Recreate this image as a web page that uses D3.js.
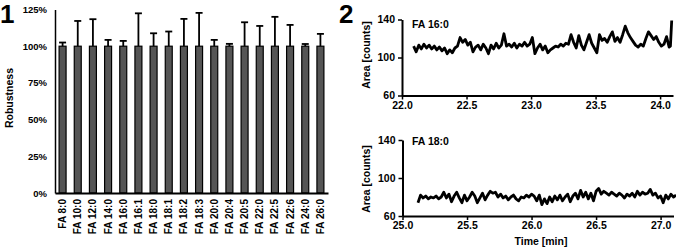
<!DOCTYPE html>
<html>
<head>
<meta charset="utf-8">
<script src="https://cdn.jsdelivr.net/npm/d3@7/dist/d3.min.js"></script>
<style>
  html, body { margin: 0; padding: 0; background: #fff; }
  svg { display: block; }
  svg text { font-family: "Liberation Sans", Arial, sans-serif !important; font-weight: 700 !important; fill: #000 !important; }
</style>
</head>
<body>
<svg id="chart" width="676" height="252"></svg>
<script>
// ---------- Panel 1 data ----------
const categories = ["FA 8:0","FA 10:0","FA 12:0","FA 14:0","FA 16:0","FA 16:1","FA 18:0","FA 18:1","FA 18:2","FA 18:3","FA 20:0","FA 20:4","FA 20:5","FA 22:0","FA 22:5","FA 22:6","FA 24:0","FA 26:0"];
const robustness = [1.00,1.00,1.00,1.00,1.00,1.00,1.00,1.00,1.00,1.00,1.00,1.00,1.00,1.00,1.00,1.00,1.00,1.00];
const errorUpper = [0.025,0.172,0.184,0.043,0.036,0.224,0.088,0.100,0.186,0.227,0.043,0.016,0.163,0.138,0.200,0.145,0.015,0.084];
const yTicks1 = [0,0.25,0.5,0.75,1.0,1.25];

// ---------- Panel 2 data ----------
const times160 = [22.09,22.11,22.13,22.15,22.17,22.19,22.21,22.23,22.25,22.27,22.29,22.31,22.33,22.35,22.37,22.39,22.41,22.43,22.45,22.47,
  22.49,22.51,22.53,22.55,22.57,22.59,22.61,22.63,22.65,22.67,22.69,22.71,22.73,22.75,22.77,22.79,22.81,22.83,22.85,22.87,
  22.89,22.91,22.93,22.95,22.97,22.99,23.01,23.03,23.05,23.07,23.09,23.11,23.13,23.15,23.17,23.19,23.21,23.23,23.25,23.27,
  23.29,23.31,23.33,23.35,23.37,23.39,23.41,23.43,23.45,23.47,23.49,23.51,23.53,23.55,23.57,23.59,23.61,23.63,23.65,23.67,
  23.69,23.71,23.73,23.75,23.77,23.79,23.81,23.83,23.85,23.87,23.89,23.91,23.93,23.95,23.97,23.99,24.01,24.03,24.05,24.07,
  24.08,24.09];
const area160 = [112,106,113,109,114,110,113,109,112,108,111,107,110,104,108,105,110,112,121,116,
  119,113,116,106,111,113,108,114,110,104,113,109,115,110,113,125,112,114,111,115,
  110,114,112,116,112,114,121,104,110,114,108,112,105,108,110,112,111,114,112,115,
  114,124,116,110,123,113,108,116,124,115,110,105,124,118,120,116,122,127,117,121,
  116,124,133,126,121,117,113,111,114,112,120,127,123,119,122,116,112,114,122,111,
  112,139];

const times180 = [25.12,25.14,25.16,25.18,25.20,25.22,25.24,25.26,25.28,25.30,25.32,25.34,25.36,25.38,25.40,25.42,25.44,25.46,25.48,25.50,
  25.52,25.54,25.56,25.58,25.60,25.62,25.64,25.66,25.68,25.70,25.72,25.74,25.76,25.78,25.80,25.82,25.84,25.86,25.88,25.90,
  25.92,25.94,25.96,25.98,26.00,26.02,26.04,26.06,26.08,26.10,26.12,26.14,26.16,26.18,26.20,26.22,26.24,26.26,26.28,26.30,
  26.32,26.34,26.36,26.38,26.40,26.42,26.44,26.46,26.48,26.50,26.52,26.54,26.56,26.58,26.60,26.62,26.64,26.66,26.68,26.70,
  26.72,26.74,26.76,26.78,26.80,26.82,26.84,26.86,26.88,26.90,26.92,26.94,26.96,26.98,27.00,27.02,27.04,27.06,27.08,27.10,27.12];
const area180 = [74,82,79,81,78,80,79,81,78,80,85,79,83,75,81,85,79,74,82,76,
  80,85,81,74,79,84,77,82,86,84,85,80,83,79,81,77,80,82,78,76,
  80,79,82,80,83,81,76,82,72,78,73,80,75,81,77,82,76,80,83,75,
  81,84,78,87,80,85,78,84,76,86,89,83,86,84,82,85,83,81,84,82,
  79,83,81,84,80,86,82,85,83,84,88,82,84,79,81,74,82,78,83,80,82];

const yTicks2 = [60,100,140];
const xTicksTop = [22.0,22.5,23.0,23.5,24.0];
const xTicksBottom = [25.0,25.5,26.0,26.5,27.0];

const svg = d3.select("#chart");

// ---------- Panel labels ----------
svg.append("text").attr("x", 0).attr("y", 23).attr("font-size", 26).text("1");
svg.append("text").attr("x", 339).attr("y", 23).attr("font-size", 26).text("2");

// ---------- Panel 1: bar chart ----------
const x1 = d3.scaleBand().domain(categories).range([55, 328]).paddingInner(0.54).paddingOuter(0.27);
const y1 = d3.scaleLinear().domain([0, 1.25]).range([193, 9.5]);

const g1 = svg.append("g");

g1.selectAll("rect.bar").data(categories).join("rect")
  .attr("class", "bar")
  .attr("x", d => x1(d))
  .attr("width", x1.bandwidth())
  .attr("y", (d, i) => y1(robustness[i]))
  .attr("height", (d, i) => y1(0) - y1(robustness[i]))
  .attr("fill", "#555555")
  .attr("stroke", "#000")
  .attr("stroke-width", 1.2);

const eb = g1.selectAll("g.eb").data(categories).join("g").attr("class", "eb");
eb.append("line")
  .attr("x1", d => x1(d) + x1.bandwidth() / 2)
  .attr("x2", d => x1(d) + x1.bandwidth() / 2)
  .attr("y1", (d, i) => y1(robustness[i]))
  .attr("y2", (d, i) => y1(robustness[i] + errorUpper[i]))
  .attr("stroke", "#000").attr("stroke-width", 1.8);
eb.append("line")
  .attr("x1", d => x1(d) + x1.bandwidth() / 2 - 3.5)
  .attr("x2", d => x1(d) + x1.bandwidth() / 2 + 3.5)
  .attr("y1", (d, i) => y1(robustness[i] + errorUpper[i]))
  .attr("y2", (d, i) => y1(robustness[i] + errorUpper[i]))
  .attr("stroke", "#000").attr("stroke-width", 1.8);

const ay1 = g1.append("g").attr("transform", "translate(55,0)")
  .call(d3.axisLeft(y1).tickValues(yTicks1).tickFormat(d3.format(".0%")).tickSize(0).tickPadding(8));
ay1.select(".domain").attr("stroke", "#000").attr("stroke-width", 1.5);
ay1.selectAll("text").attr("font-size", 9.5).style("font-weight", "bold");

const ax1 = g1.append("g").attr("transform", "translate(0,193)")
  .call(d3.axisBottom(x1).tickSize(0).tickSizeOuter(0).tickPadding(0));
ax1.select(".domain").attr("stroke", "#000").attr("stroke-width", 2.2);
ax1.selectAll("text")
  .attr("font-size", 10)
  .style("font-weight", "bold")
  .attr("text-anchor", "end")
  .attr("transform", "translate(0,6) rotate(-90)")
  .attr("x", 0).attr("y", 0).attr("dy", "0.35em");

svg.append("text")
  .attr("transform", "translate(13,98) rotate(-90)")
  .attr("text-anchor", "middle")
  .attr("font-size", 10.5)
  .text("Robustness");

// ---------- Panel 2: traces ----------
function tracePanel(times, values, xDomain, xRange, yRange, xTicks, label, labelY, yLabelCenter) {
  const x = d3.scaleLinear().domain(xDomain).range(xRange);
  const y = d3.scaleLinear().domain([60, 140]).range(yRange);
  const g = svg.append("g");

  const line = d3.line().x((d, i) => x(times[i])).y(d => y(d));
  g.append("path").datum(values)
    .attr("d", line)
    .attr("fill", "none")
    .attr("stroke", "#000")
    .attr("stroke-width", 2.8)
    .attr("stroke-linejoin", "round");

  const ay = g.append("g").attr("transform", `translate(${xRange[0]},0)`)
    .call(d3.axisLeft(y).tickValues(yTicks2).tickSize(4).tickSizeOuter(0).tickPadding(3));
  ay.select(".domain").attr("stroke", "#000").attr("stroke-width", 2);
  ay.selectAll(".tick line").attr("stroke", "#000").attr("stroke-width", 1.5);
  ay.selectAll("text").attr("font-size", 10.5).style("font-weight", "bold");

  const ax = g.append("g").attr("transform", `translate(0,${yRange[0]})`)
    .call(d3.axisBottom(x).tickValues(xTicks).tickFormat(d3.format(".1f")).tickSize(4).tickSizeOuter(0).tickPadding(2));
  ax.select(".domain").attr("stroke", "#000").attr("stroke-width", 2);
  ax.selectAll(".tick line").attr("stroke", "#000").attr("stroke-width", 1.5);
  ax.selectAll("text").attr("font-size", 10.5).style("font-weight", "bold");

  g.append("text")
    .attr("transform", `translate(370,${yLabelCenter}) rotate(-90)`)
    .attr("text-anchor", "middle")
    .attr("font-size", 10.5)
    .text("Area [counts]");

  g.append("text").attr("x", 412).attr("y", labelY).attr("font-size", 10.5).text(label);
}

tracePanel(times160, area160, [22, 24.1], [402, 673], [95.5, 19.5], xTicksTop, "FA 16:0", 28, 55);
tracePanel(times180, area180, [25, 27.1], [402.5, 673.5], [216, 140], xTicksBottom, "FA 18:0", 145, 179);

svg.append("text")
  .attr("x", 541).attr("y", 245)
  .attr("text-anchor", "middle")
  .attr("font-size", 10.5)
  .text("Time [min]");
</script>
</body>
</html>
